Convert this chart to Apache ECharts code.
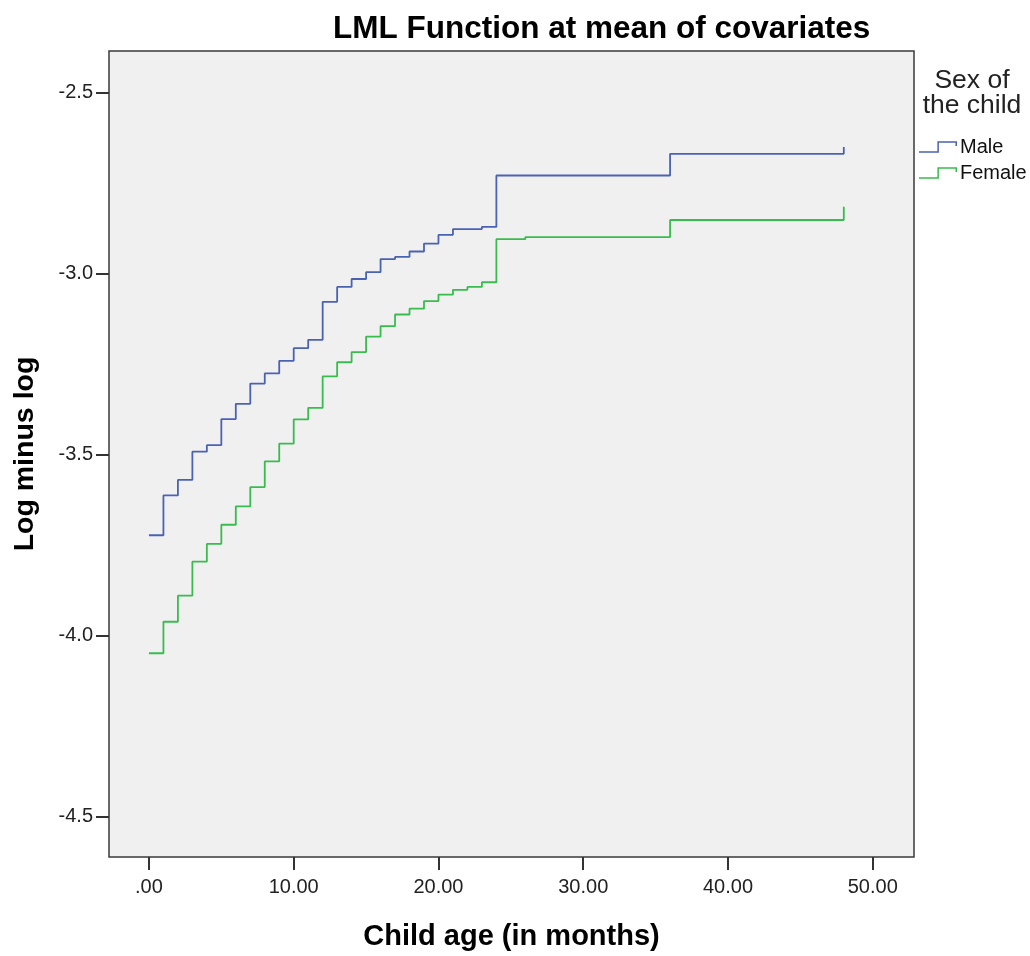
<!DOCTYPE html>
<html>
<head>
<meta charset="utf-8">
<script src="https://cdn.jsdelivr.net/npm/echarts@6/dist/echarts.min.js"></script>
<style>
html,body{margin:0;padding:0;background:#fff;}
#chart{width:1030px;height:956px;}
</style>
</head>
<body>
<div id="chart"></div>
<script>
const maleMonths = [0,1,2,3,4,5,6,7,8,9,10,11,12,13,14,15,16,17,18,19,20,21,23,24,36,48];
const maleLML = [-3.723,-3.613,-3.570,-3.492,-3.474,-3.402,-3.360,-3.304,-3.276,-3.241,-3.206,-3.183,-3.078,-3.037,-3.015,-2.996,-2.960,-2.954,-2.939,-2.917,-2.893,-2.877,-2.871,-2.729,-2.669,-2.650];
const femaleMonths = [0,1,2,3,4,5,6,7,8,9,10,11,12,13,14,15,16,17,18,19,20,21,22,23,24,26,36,48];
const femaleLML = [-4.049,-3.962,-3.890,-3.796,-3.747,-3.694,-3.643,-3.590,-3.519,-3.470,-3.403,-3.371,-3.284,-3.245,-3.217,-3.174,-3.145,-3.113,-3.097,-3.076,-3.058,-3.045,-3.037,-3.024,-2.905,-2.899,-2.852,-2.815];
const xTicks = [0,10,20,30,40,50];
const yTicks = [-4.5,-4.0,-3.5,-3.0,-2.5];
const seriesNames = ['Male','Female'];

const FONT = '"Liberation Sans", Arial, sans-serif';
const stepIcon = 'path://M0,10.25 L18.25,10.25 L18.25,0.25 L37.75,0.25 L37.75,5 L36.25,5 L36.25,1.75 L19.75,1.75 L19.75,11.75 L0,11.75 Z';

const chart = echarts.init(document.getElementById('chart'), null, {renderer:'canvas'});
chart.setOption({
  animation: false,
  backgroundColor: '#ffffff',
  title: [
    {
      text: 'LML Function at mean of covariates',
      left: 333, top: 13, padding: 0,
      textStyle: {fontFamily: FONT, fontSize: 31.5, fontWeight: 'bold', color: '#000'}
    },
    {
      text: 'Sex of\nthe child',
      left: 972, top: 68, textAlign: 'center', padding: 0,
      textStyle: {fontFamily: FONT, fontSize: 26.5, fontWeight: 'normal', color: '#222', lineHeight: 25}
    }
  ],
  legend: {
    orient: 'vertical',
    left: 919, top: 137, padding: 0,
    itemWidth: 38, itemHeight: 12, itemGap: 6,
    icon: stepIcon,
    textStyle: {fontFamily: FONT, fontSize: 20, color: '#111', lineHeight: 20, padding: [0,0,0,-2]},
    data: seriesNames
  },
  grid: {
    left: 109, right: 116, top: 51, bottom: 93.5,
    show: true, backgroundColor: '#F0F0F0', borderColor: '#3a3a3a', borderWidth: 1.5,
    containLabel: false
  },
  xAxis: {
    type: 'value', min: -2.76, max: 52.85,
    name: 'Child age (in months)', nameLocation: 'middle', nameGap: 65,
    nameTextStyle: {fontFamily: FONT, fontSize: 29, fontWeight: 'bold', color: '#000'},
    axisLine: {show: false, onZero: false},
    splitLine: {show: false},
    axisTick: {show: true, customValues: xTicks, length: 13, lineStyle: {color: '#333', width: 2}},
    axisLabel: {
      customValues: xTicks, margin: 20,
      fontFamily: FONT, fontSize: 20, color: '#222',
      formatter: v => { const s = v.toFixed(2); return s.startsWith('0') ? s.slice(1) : s; }
    }
  },
  yAxis: {
    type: 'value', min: -4.612, max: -2.385,
    name: 'Log minus log', nameLocation: 'middle', nameGap: 69,
    nameTextStyle: {fontFamily: FONT, fontSize: 28.5, fontWeight: 'bold', color: '#000'},
    axisLine: {show: false, onZero: false},
    splitLine: {show: false},
    axisTick: {show: true, customValues: yTicks, length: 13, lineStyle: {color: '#333', width: 2}},
    axisLabel: {
      customValues: yTicks, margin: 16,
      fontFamily: FONT, fontSize: 20, color: '#222',
      formatter: v => v.toFixed(1)
    }
  },
  series: [
    {
      name: seriesNames[0], type: 'line', step: 'end', showSymbol: false, symbol: 'none',
      color: '#4A62B4',
      lineStyle: {color: '#4A62B4', width: 1.8},
      data: maleMonths.map((m, i) => [m, maleLML[i]])
    },
    {
      name: seriesNames[1], type: 'line', step: 'end', showSymbol: false, symbol: 'none',
      color: '#38BC4E',
      lineStyle: {color: '#38BC4E', width: 1.8},
      data: femaleMonths.map((m, i) => [m, femaleLML[i]])
    }
  ]
});
</script>
</body>
</html>
